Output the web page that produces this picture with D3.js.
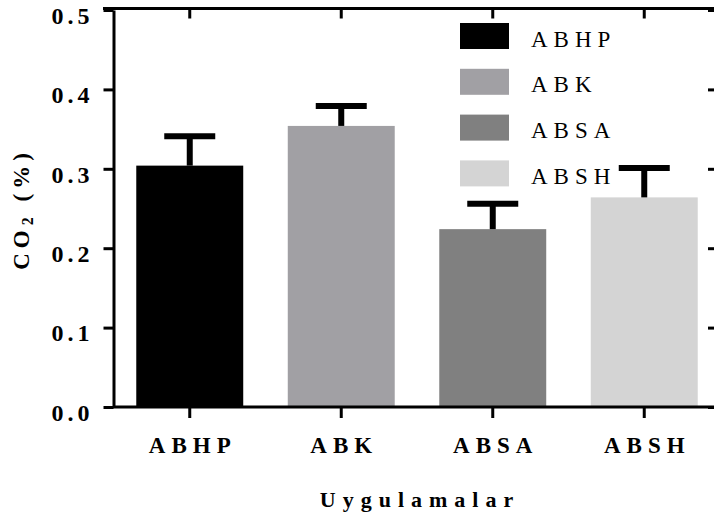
<!DOCTYPE html>
<html>
<head>
<meta charset="utf-8">
<script src="https://cdn.jsdelivr.net/npm/d3@7"></script>
<style>
  html, body { margin: 0; padding: 0; background: #fff; }
  svg { display: block; }
  text { font-family: "Liberation Serif", "Times New Roman", serif; fill: #000; }
</style>
</head>
<body>
<svg id="chart" width="714" height="519"></svg>
<script>
// ---- data ----
const categories = ["ABHP", "ABK", "ABSA", "ABSH"];
const means = [0.304, 0.354, 0.224, 0.264];
const errors = [0.037, 0.025, 0.032, 0.037];
const colors = ["#000000", "#a1a0a4", "#808080", "#d4d4d4"];
const yTicks = [0.0, 0.1, 0.2, 0.3, 0.4, 0.5];
const yTitle = "CO";
const xTitle = "Uygulamalar";

const svg = d3.select("#chart");

const x = d3.scaleBand().domain(categories).range([114, 720])
  .paddingInner(0.294).paddingOuter(0.147);
const y = d3.scaleLinear().domain([0, 0.5]).range([407, 10]);
const color = d3.scaleOrdinal().domain(categories).range(colors);

const data = categories.map((c, i) => ({ c, v: means[i], e: errors[i] }));

// bars
svg.append("g").selectAll("rect").data(data).join("rect")
  .attr("x", d => x(d.c))
  .attr("width", x.bandwidth())
  .attr("y", d => y(d.v))
  .attr("height", d => y(0) - y(d.v))
  .attr("fill", d => color(d.c));

// error bars
const eg = svg.append("g").attr("stroke", "#000").attr("stroke-width", 6);
eg.selectAll("line.stem").data(data).join("line").attr("class", "stem")
  .attr("x1", d => x(d.c) + x.bandwidth() / 2)
  .attr("x2", d => x(d.c) + x.bandwidth() / 2)
  .attr("y1", d => y(d.v))
  .attr("y2", d => y(d.v + d.e));
eg.selectAll("line.cap").data(data).join("line").attr("class", "cap")
  .attr("x1", d => x(d.c) + x.bandwidth() / 2 - 25.5)
  .attr("x2", d => x(d.c) + x.bandwidth() / 2 + 25.5)
  .attr("y1", d => y(d.v + d.e))
  .attr("y2", d => y(d.v + d.e));

const yLS = 4;
// left axis
const gy = svg.append("g").attr("transform", "translate(113.5,0)")
  .call(d3.axisLeft(y).tickValues(yTicks).tickFormat(d3.format(".1f"))
    .tickSizeInner(10).tickSizeOuter(0).tickPadding(14));
gy.select(".domain").attr("stroke-width", 3);
gy.selectAll(".tick line").attr("stroke-width", 3);
gy.selectAll(".tick text")
  .style("font-size", "24px").style("font-weight", "bold")
  .style("letter-spacing", yLS + "px")
  .attr("dx", yLS).attr("dy", "0.55em").attr("y", 0);

// bottom axis
const gx = svg.append("g").attr("transform", "translate(0,407)")
  .call(d3.axisBottom(x).tickSizeInner(11).tickSizeOuter(0).tickPadding(19));
gx.select(".domain").attr("stroke-width", 3).attr("d", "M113,0H714");
gx.selectAll(".tick line").attr("stroke-width", 3);
gx.selectAll(".tick text")
  .style("font-size", "23px").style("font-weight", "bold")
  .style("letter-spacing", "6px").attr("dx", 3).attr("dy", "0.71em");

// top mirror axis
const gt = svg.append("g").attr("transform", "translate(0,8.5)")
  .call(d3.axisTop(x).tickSizeInner(-10).tickSizeOuter(0).tickFormat(""));
gt.select(".domain").attr("stroke-width", 3).attr("d", "M103,0H714");
gt.selectAll(".tick line").attr("stroke-width", 3);

// right mirror axis (mostly off-canvas)
const gr = svg.append("g").attr("transform", "translate(716,0)")
  .call(d3.axisRight(y).tickValues(yTicks).tickSizeInner(-8).tickSizeOuter(0).tickFormat(""));
gr.select(".domain").attr("stroke-width", 3);
gr.selectAll(".tick line").attr("stroke-width", 3);

// y title
const yt = svg.append("text")
  .attr("transform", "translate(29,209) rotate(-90)")
  .attr("text-anchor", "middle")
  .style("font-size", "23px").style("font-weight", "bold")
  .style("letter-spacing", "5px");
yt.append("tspan").text(yTitle);
yt.append("tspan").text("2").style("font-size", "16px").attr("dy", 4);
yt.append("tspan").text(" (%)").attr("dy", -4);

// x title
svg.append("text")
  .attr("x", 417 + 3).attr("y", 507)
  .attr("text-anchor", "middle")
  .style("font-size", "22px").style("font-weight", "bold")
  .style("letter-spacing", "7px")
  .text(xTitle);

// legend
const lg = svg.append("g").attr("transform", "translate(460,23)");
const li = lg.selectAll("g").data(categories).join("g")
  .attr("transform", (d, i) => `translate(0,${i * 45.8})`);
li.append("rect").attr("width", 49).attr("height", 26).attr("fill", d => color(d));
li.append("text").attr("x", 71).attr("y", 23.5)
  .style("font-size", "23px").style("letter-spacing", "6px")
  .text(d => d);
</script>
</body>
</html>
